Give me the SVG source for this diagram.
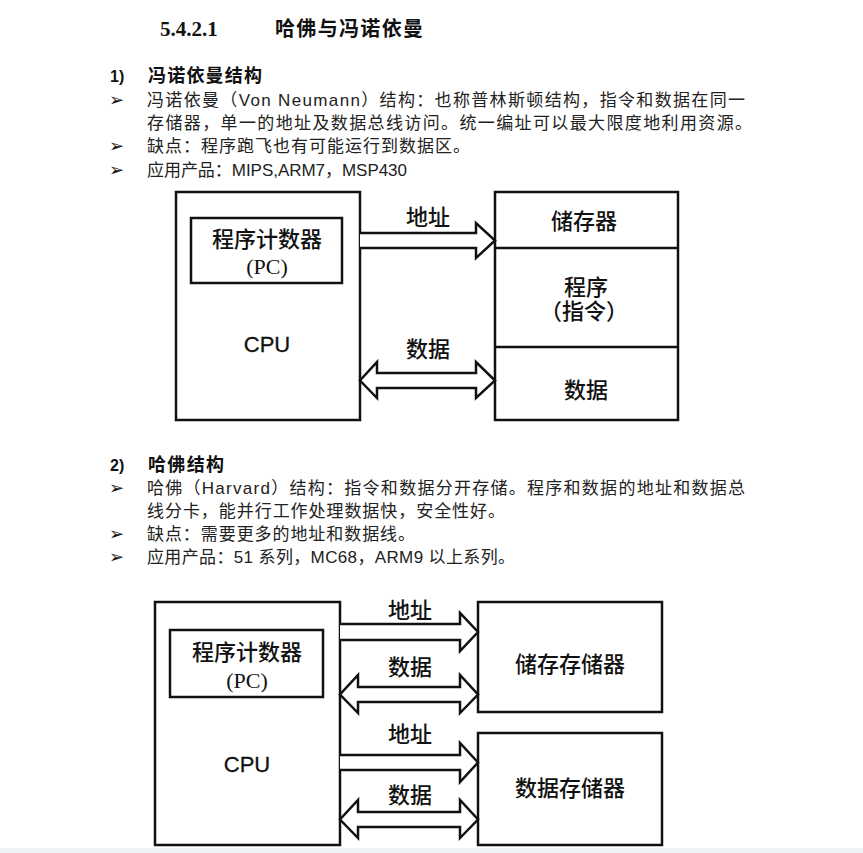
<svg xmlns="http://www.w3.org/2000/svg" width="863" height="853" viewBox="0 0 863 853">
<style>
.t{font-family:"Liberation Sans","Noto Sans CJK SC",sans-serif;font-size:17px;fill:#222}
.h{font-family:"Liberation Sans","Noto Sans CJK SC",sans-serif;font-size:18px;font-weight:bold;fill:#111}
.b{font-family:"DejaVu Sans",sans-serif;font-size:18px;fill:#111}
.lbl{font-family:"Liberation Serif","Noto Sans CJK SC",serif;font-size:22px;font-weight:500;fill:#111;text-anchor:middle}
.cpu{font-family:"Liberation Sans",sans-serif;font-size:22px;fill:#111;text-anchor:middle;stroke:#111;stroke-width:0.3}
.box{fill:none;stroke:#111;stroke-width:2.5}
.arr{fill:#fff;stroke:#111;stroke-width:2.5;stroke-linejoin:miter}
</style>
<rect width="863" height="853" fill="#fff"/>
<g id="title">
<text x="160" y="36" style="font-family:'Liberation Serif',serif;font-size:21px;font-weight:bold;fill:#111">5.4.2.1</text>
<text x="275" y="36" style="font-family:'Liberation Serif','Noto Sans CJK SC',serif;font-size:20px;font-weight:bold;fill:#111" textLength="148" lengthAdjust="spacing">哈佛与冯诺依曼</text>
</g>
<g id="section1">
<text x="110" y="82" class="h" style="font-size:16px">1)</text>
<text x="148" y="82" class="h" textLength="114" lengthAdjust="spacing">冯诺依曼结构</text>
<text x="109" y="106" class="b">➢</text>
<text x="147" y="106" class="t" textLength="598" lengthAdjust="spacing">冯诺依曼（Von  Neumann）结构：也称普林斯顿结构，指令和数据在同一</text>
<text x="147" y="129" class="t" textLength="605" lengthAdjust="spacing">存储器，单一的地址及数据总线访问。统一编址可以最大限度地利用资源。</text>
<text x="109" y="152" class="b">➢</text>
<text x="147" y="152" class="t" textLength="323" lengthAdjust="spacing">缺点：程序跑飞也有可能运行到数据区。</text>
<text x="109" y="176" class="b">➢</text>
<text x="147" y="176" class="t" textLength="260" lengthAdjust="spacing">应用产品：MIPS,ARM7，MSP430</text>
</g>
<g id="cpu1">
<rect x="176" y="192" width="184" height="228" class="box"/>
<text x="267" y="352" class="cpu">CPU</text>
</g>
<g id="pc1">
<rect x="191" y="218" width="151" height="65" class="box"/>
<text x="267" y="247" class="lbl">程序计数器</text>
<text x="267" y="274" class="lbl">(PC)</text>
</g>
<g id="mem1">
<rect x="495" y="192" width="183" height="228" class="box"/>
<line x1="495" y1="248" x2="678" y2="248" class="box"/>
<line x1="495" y1="347" x2="678" y2="347" class="box"/>
<text x="584" y="229" class="lbl">储存器</text>
<text x="586" y="295" class="lbl">程序</text>
<text x="584" y="319" class="lbl">（指令）</text>
<text x="586" y="398" class="lbl">数据</text>
</g>
<g id="connectors1">
<path class="arr" d="M360,233 L476,233 L476,223 L495,240.5 L476,258 L476,248 L360,248"/>
<path class="arr" d="M377,373 L476,373 L476,362 L495,380.5 L476,398 L476,388 L377,388 L377,398 L360,380.5 L377,362 Z"/>
<text x="428" y="225" class="lbl">地址</text>
<text x="428" y="357" class="lbl">数据</text>
</g>
<g id="section2">
<text x="110" y="471" class="h" style="font-size:16px">2)</text>
<text x="148" y="471" class="h" textLength="76" lengthAdjust="spacing">哈佛结构</text>
<text x="109" y="494" class="b">➢</text>
<text x="147" y="494" class="t" textLength="598" lengthAdjust="spacing">哈佛（Harvard）结构：指令和数据分开存储。程序和数据的地址和数据总</text>
<text x="147" y="517" class="t" textLength="358" lengthAdjust="spacing">线分卡，能并行工作处理数据快，安全性好。</text>
<text x="109" y="540" class="b">➢</text>
<text x="147" y="540" class="t" textLength="268" lengthAdjust="spacing">缺点：需要更多的地址和数据线。</text>
<text x="109" y="563" class="b">➢</text>
<text x="147" y="563" class="t" textLength="368" lengthAdjust="spacing">应用产品：51 系列，MC68，ARM9 以上系列。</text>
</g>
<g id="cpu2">
<rect x="155" y="602" width="185" height="243" class="box"/>
<text x="247" y="772" class="cpu">CPU</text>
</g>
<g id="pc2">
<rect x="170" y="630" width="153" height="67" class="box"/>
<text x="247" y="660" class="lbl">程序计数器</text>
<text x="247" y="688" class="lbl">(PC)</text>
</g>
<g id="progmem2">
<rect x="478" y="602" width="184" height="110" class="box"/>
<text x="570" y="672" class="lbl">储存存储器</text>
</g>
<g id="datamem2">
<rect x="478" y="733" width="184" height="112" class="box"/>
<text x="570" y="796" class="lbl">数据存储器</text>
</g>
<g id="connectors2">
<path class="arr" d="M340,624 L460,624 L460,613 L478,632 L460,651 L460,640 L340,640"/>
<path class="arr" d="M358,687 L460,687 L460,675 L478,694.5 L460,713 L460,702 L358,702 L358,713 L340,694.5 L358,675 Z"/>
<path class="arr" d="M340,755 L460,755 L460,743 L478,762.5 L460,782 L460,770 L340,770"/>
<path class="arr" d="M358,812 L460,812 L460,800 L478,819.5 L460,838 L460,827 L358,827 L358,838 L340,819.5 L358,800 Z"/>
<text x="410" y="618" class="lbl">地址</text>
<text x="410" y="675" class="lbl">数据</text>
<text x="410" y="742" class="lbl">地址</text>
<text x="410" y="803" class="lbl">数据</text>
</g>
<rect x="0" y="848" width="863" height="5" fill="#eef1f5"/>
</svg>
